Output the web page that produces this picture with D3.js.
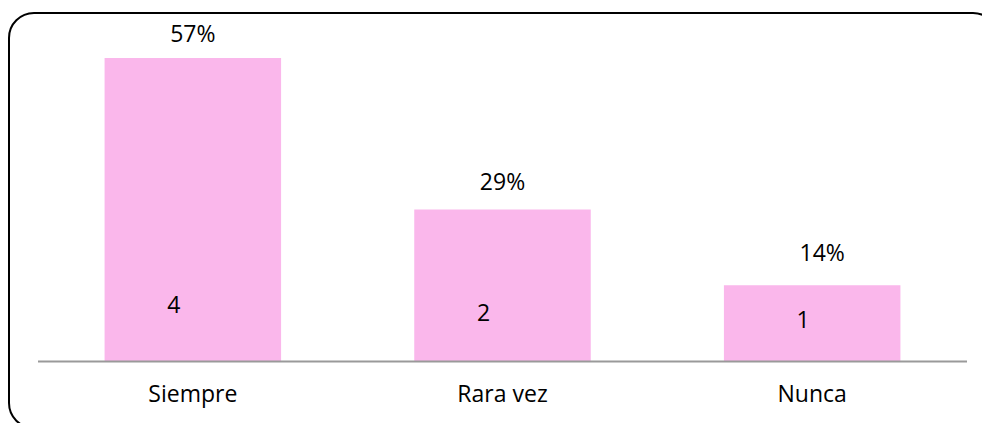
<!DOCTYPE html>
<html>
<head>
<meta charset="utf-8">
<script src="https://cdn.jsdelivr.net/npm/d3@7"></script>
<style>
  body { margin: 0; background: #fff; }
  svg { display: block; }
</style>
</head>
<body>
<svg id="chart" width="982" height="423"></svg>
<script>
// data
var categories = ["Siempre", "Rara vez", "Nunca"];
var counts = [4, 2, 1];
var percents = ["57%", "29%", "14%"];

var svg = d3.select("#chart");
let w = 982, h = 423;

// frame round the chart (runs off the right / bottom edges)
svg.append("rect")
    .attr("x", 9).attr("y", 13)
    .attr("width", 989).attr("height", 415)
    .attr("rx", 25).attr("ry", 25)
    .attr("fill", "none")
    .attr("stroke", "#000")
    .attr("stroke-width", 2);

let margin = { left: 38, right: 15, top: 58, bottom: 62 };
let plotBottom = h - margin.bottom; // 361

var x = d3.scaleBand()
    .domain(categories)
    .range([margin.left, w - margin.right])
    .paddingInner(0.43)
    .paddingOuter(0.215);

var y = d3.scaleLinear()
    .domain([0, 4])
    .range([plotBottom, margin.top]);

var fontFam = "'Open Sans', sans-serif";
var fontSize = 23;

// bars
svg.append("g").selectAll("rect")
    .data(counts)
    .enter().append("rect")
    .attr("x", function (d, i) { return x(categories[i]); })
    .attr("y", function (d) { return y(d); })
    .attr("width", x.bandwidth())
    .attr("height", function (d) { return y(0) - y(d); })
    .attr("fill", "#FAB7EB");

// category axis (line only, no ticks)
var xAxis = svg.append("g")
    .attr("transform", "translate(0," + plotBottom + ")")
    .call(d3.axisBottom(x).tickSize(0).tickPadding(25));
xAxis.select(".domain")
    .attr("d", "M" + margin.left + ",0.5H" + (w - margin.right))
    .attr("stroke", "#9a9a9a")
    .attr("stroke-width", 2);
xAxis.selectAll("text")
    .attr("font-family", fontFam)
    .attr("font-size", fontSize)
    .attr("fill", "#000")
    .attr("dy", "0.71em");

// label nudges, as placed in the original
var pctShift = [0, 0, 10];
var pctLift = [16, 20, 24];
var cntShift = [-19, -19, -9];
var cntDrop = [48, 40, 33];

// percentage labels above the bars
svg.append("g").selectAll("text")
    .data(percents)
    .enter().append("text")
    .attr("x", function (d, i) { return x(categories[i]) + x.bandwidth() / 2 + pctShift[i]; })
    .attr("y", function (d, i) { return y(counts[i]) - pctLift[i]; })
    .attr("text-anchor", "middle")
    .attr("font-family", fontFam)
    .attr("font-size", fontSize)
    .attr("fill", "#000")
    .text(function (d) { return d; });

// counts inside the bars
svg.append("g").selectAll("text")
    .data(counts)
    .enter().append("text")
    .attr("x", function (d, i) { return x(categories[i]) + x.bandwidth() / 2 + cntShift[i]; })
    .attr("y", function (d, i) { return y(0) - cntDrop[i]; })
    .attr("text-anchor", "middle")
    .attr("font-family", fontFam)
    .attr("font-size", fontSize)
    .attr("fill", "#000")
    .text(function (d) { return d; });
</script>
</body>
</html>
